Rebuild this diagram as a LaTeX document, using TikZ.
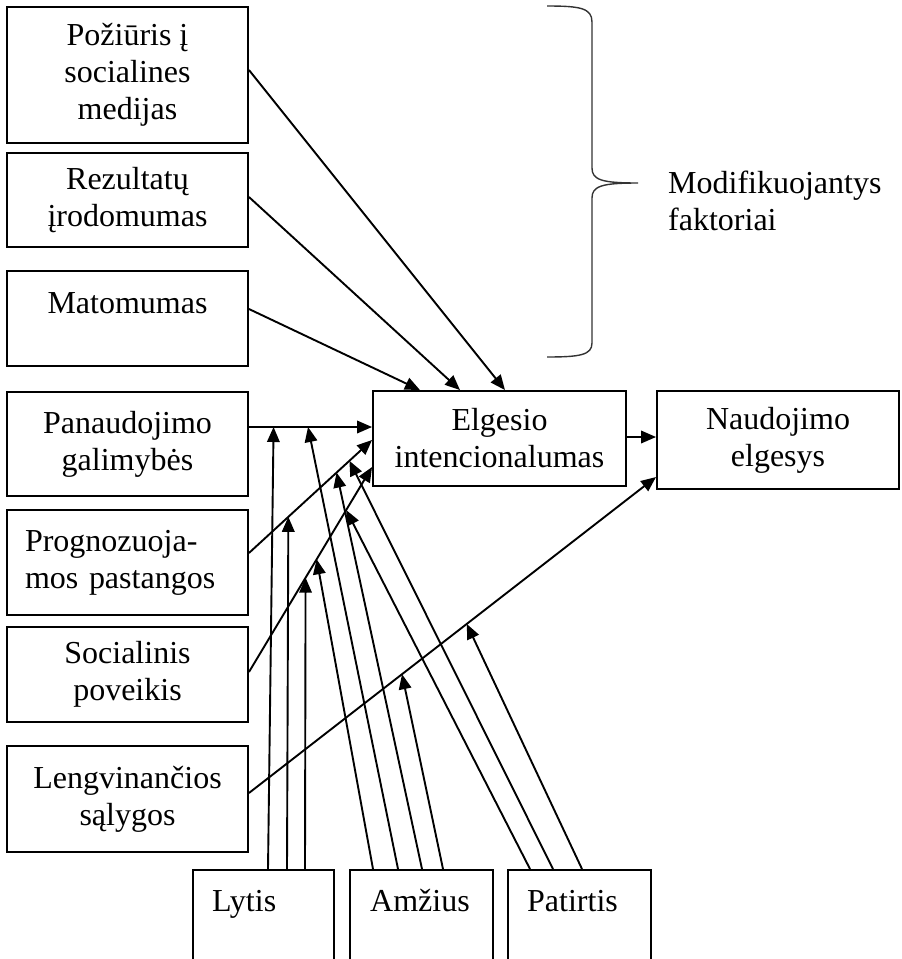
\documentclass[tikz,border=0pt]{standalone}
\usepackage{fontspec}
\setmainfont{Liberation Serif}
\usetikzlibrary{arrows.meta,calc}
\begin{document}
\begin{tikzpicture}[x=1pt,y=-1pt,
  fnt/.style={font=\fontsize{32pt}{37pt}\selectfont},
  box/.style={draw, line width=1.9pt, inner sep=0pt, align=center, fnt},
  lbox/.style={box, minimum width=241pt},
  bbox/.style={box, minimum height=93pt, anchor=north west},
  txt/.style={fnt, inner sep=0pt},
  arr/.style={line width=1.9pt, -{Triangle[length=15pt,width=12.5pt]}},
  bracestyle/.style={line width=1.4pt, black!80}]
\useasboundingbox (0,0) rectangle (902,959);
\clip (0,0) rectangle (902,959);

% left column
\node[lbox, minimum height=136pt] (b1) at (127.5,75) {Požiūris į\\socialines\\medijas};
\node[lbox, minimum height=94pt] (b2) at (127.5,200) {Rezultatų\\įrodomumas};
\node[lbox, minimum height=95pt] (b3) at (127.5,318.5) {};
\node[txt, anchor=base] (b3t) at (127.5,313) {Matomumas};
\node[lbox, minimum height=104pt] (b4) at (127.5,444) {Panaudojimo\\galimybės};
\node[lbox, minimum height=105pt, align=left, text width=205pt] (b5) at (127.5,562.5) {Prognozuoja-\\mos pastangos};
\node[lbox, minimum height=95pt] (b6) at (127.5,674.5) {Socialinis\\poveikis};
\node[lbox, minimum height=106pt] (b7) at (127.5,799) {Lengvinančios\\sąlygos};

% centre / right
\node[box, minimum width=253pt, minimum height=95pt] (elg) at (499.5,438.5) {Elgesio\\intencionalumas};
\node[box, minimum width=242pt, minimum height=98pt] (nau) at (778,440) {Naudojimo\\elgesys};

% bottom boxes
\node[bbox, minimum width=141pt] (ly) at (192,869) {};
\node[bbox, minimum width=143pt] (am) at (349,869) {};
\node[bbox, minimum width=143pt] (pa) at (507,869) {};
\node[txt, anchor=base west] (lyt) at (212,911) {Lytis};
\node[txt, anchor=base west] (amt) at (370,911) {Amžius};
\node[txt, anchor=base west] (pat) at (527,911) {Patirtis};

% brace and label
\draw[bracestyle] (547,6) .. controls (580,6) and (592,8) .. (592,22) -- (592,168)
  .. controls (592,180) and (602,183) .. (638,183)
  .. controls (602,183) and (592,186) .. (592,198) -- (592,343)
  .. controls (592,355) and (580,357) .. (547,357);
\node[txt, anchor=west, align=left] (mod) at (668,201) {Modifikuojantys\\faktoriai};

% modifying factors -> intention
\draw[arr] (b1.east |- 0,70) -- (elg.north -| 505,0);
\draw[arr] (b2.east |- 0,197) -- (elg.north -| 460,0);
\draw[arr] (b3.east |- 0,309) -- (elg.north -| 420,0);

% main constructs
\coordinate (s4) at (b4.east |- 0,427); \coordinate (e4) at (elg.west |- 0,427);
\coordinate (s5) at (b5.east |- 0,553); \coordinate (e5) at (elg.west |- 0,440);
\coordinate (s6) at (b6.east |- 0,672); \coordinate (e6) at (elg.west |- 0,467);
\coordinate (s7) at (b7.east |- 0,793); \coordinate (e7) at (nau.west |- 0,477);
\draw[arr] (s4) -- (e4);
\draw[arr] (s5) -- (e5);
\draw[arr] (s6) -- (e6);
\draw[arr] (s7) -- (e7);
\draw[arr] (elg.east |- 0,437) -- (nau.west |- 0,437);

% moderator targets on the connectors
\coordinate (m41) at ($(s4)!0.2!(e4)$);
\coordinate (m42) at ($(s4)!0.48!(e4)$);
\coordinate (m51) at ($(s5)!0.32!(e5)$);
\coordinate (m52) at ($(s5)!0.712!(e5)$);
\coordinate (m53) at ($(s5)!0.816!(e5)$);
\coordinate (m61) at ($(s6)!0.46!(e6)$);
\coordinate (m62) at ($(s6)!0.55!(e6)$);
\coordinate (m63) at ($(s6)!0.79!(e6)$);
\coordinate (m71) at ($(s7)!0.376!(e7)$);
\coordinate (m72) at ($(s7)!0.535!(e7)$);

% Lytis
\draw[arr] (ly.north -| 268,0) -- (m41);
\draw[arr] (ly.north -| 287,0) -- (m51);
\draw[arr] (ly.north -| 305,0) -- (m61);
% Amzius
\draw[arr] (am.north -| 373,0) -- (m62);
\draw[arr] (am.north -| 398,0) -- (m42);
\draw[arr] (am.north -| 422,0) -- (m52);
\draw[arr] (am.north -| 443,0) -- (m71);
% Patirtis
\draw[arr] (pa.north -| 530,0) -- (m63);
\draw[arr] (pa.north -| 553,0) -- (m53);
\draw[arr] (pa.north -| 582,0) -- (m72);
\end{tikzpicture}
\end{document}
